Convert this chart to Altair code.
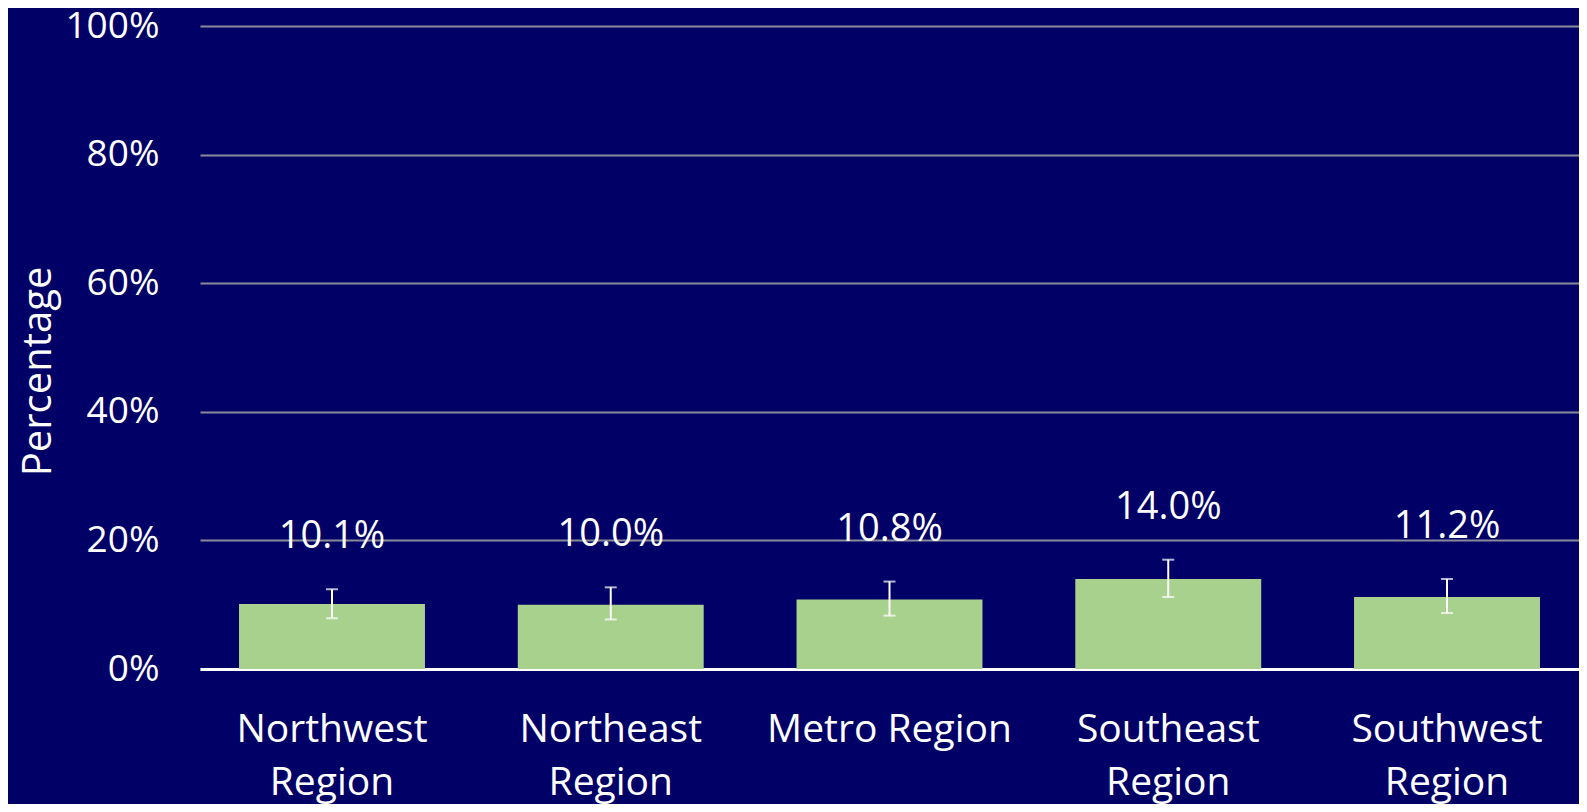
import altair as alt
import pandas as pd

regions = ["Northwest Region", "Northeast Region", "Metro Region", "Southeast Region", "Southwest Region"]
values = [10.1, 10.0, 10.8, 14.0, 11.2]
err_low = [7.9, 7.7, 8.3, 11.2, 8.7]
err_high = [12.4, 12.7, 13.6, 17.0, 14.0]
value_labels = ["10.1%", "10.0%", "10.8%", "14.0%", "11.2%"]
y_ticks = [0, 20, 40, 60, 80, 100]

df = pd.DataFrame({
    "region": regions,
    "value": values,
    "low": err_low,
    "high": err_high,
    "label": value_labels,
})

FONT = "Open Sans"

x = alt.X(
    "region:N",
    sort=regions,
    title=None,
    scale=alt.Scale(paddingInner=0.333, paddingOuter=0.14),
    axis=alt.Axis(
        labelAngle=0,
        labelExpr="datum.label == 'Metro Region' ? datum.label : split(datum.label, ' ')",
        labelFont=FONT,
        labelFontSize=39,
        labelColor="white",
        labelPadding=41,
        labelLineHeight=53,
        labelBaseline="top",
        labelLimit=0,
        ticks=False,
        domain=True,
        domainColor="white",
        domainWidth=3,
        grid=False,
    ),
)

y_axis = alt.Axis(
    values=y_ticks,
    labelExpr="datum.value + '%'",
    labelFont=FONT,
    labelFontSize=37,
    labelColor="white",
    labelPadding=41,
    ticks=False,
    domain=False,
    grid=True,
    gridColor="#8a8a9a",
    gridWidth=2,
    title="Percentage",
    titleFont=FONT,
    titleFontSize=40,
    titleFontWeight="normal",
    titleColor="white",
    titleAngle=270,
    titleAlign="center",
    titleBaseline="alphabetic",
    titleX=-150,
    titleY=345,
)

base = alt.Chart(df).encode(x=x)

bars = base.mark_bar(color="#a9d18e").encode(
    y=alt.Y("value:Q", scale=alt.Scale(domain=[0, 100], nice=False), axis=y_axis)
)

err_rule = base.mark_rule(color="white", strokeWidth=2).encode(
    y="low:Q", y2="high:Q"
)
cap_low = base.mark_tick(color="white", thickness=2, size=12, orient="horizontal").encode(y="low:Q")
cap_high = base.mark_tick(color="white", thickness=2, size=12, orient="horizontal").encode(y="high:Q")

labels = base.mark_text(
    font=FONT, fontSize=38, color="white", baseline="middle", dy=-52
).encode(y="high:Q", text="label:N")

chart = alt.layer(bars, err_rule, cap_low, cap_high, labels).properties(
    width=1379,
    height=643,
    background="#000066",
    padding={"left": 192, "top": 18, "right": 0, "bottom": 135},
    autosize=alt.AutoSizeParams(type="none"),
).configure_view(stroke=None)

chart.save("out.html", embed_options={"renderer": "svg", "actions": False})
